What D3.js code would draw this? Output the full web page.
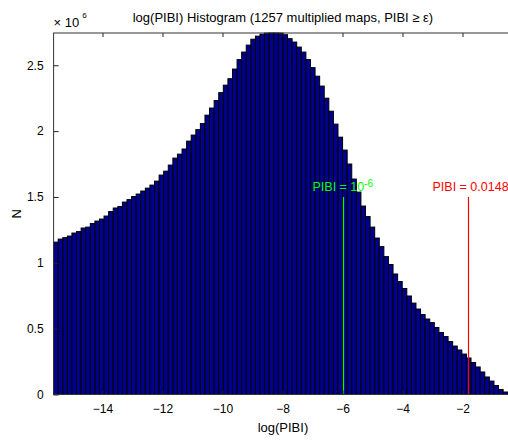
<!DOCTYPE html>
<html>
<head>
<meta charset="utf-8">
<script src="https://cdn.jsdelivr.net/npm/d3@7"></script>
<style>
  body { margin: 0; background: #fff; }
  svg { display: block; font-family: "Liberation Sans", Arial, sans-serif; }
</style>
</head>
<body>
<svg id="hist-svg"></svg>
<script>
const width = 508;
const height = 441;

// log10(PIBI) range covered by the 100 bins
const logMin = -15.63;
const logMax = -0.34;

// bin counts, in units of 10^6
const countsMillions = [
  1.157, 1.180, 1.191, 1.203, 1.226, 1.237, 1.264, 1.271, 1.298, 1.317,
  1.332, 1.355, 1.389, 1.416, 1.427, 1.461, 1.480, 1.503, 1.522, 1.545,
  1.567, 1.590, 1.620, 1.666, 1.696, 1.742, 1.795, 1.825, 1.864, 1.924,
  1.970, 2.011, 2.057, 2.121, 2.175, 2.232, 2.292, 2.349, 2.398, 2.471,
  2.543, 2.600, 2.653, 2.698, 2.721, 2.736, 2.744, 2.745, 2.745, 2.744,
  2.732, 2.702, 2.676, 2.638, 2.600, 2.543, 2.482, 2.417, 2.342, 2.250,
  2.151, 2.053, 1.954, 1.856, 1.750, 1.636, 1.537, 1.431, 1.351, 1.271,
  1.188, 1.123, 1.047, 0.987, 0.915, 0.858, 0.805, 0.748, 0.694, 0.649,
  0.607, 0.573, 0.546, 0.509, 0.471, 0.440, 0.402, 0.368, 0.338, 0.307,
  0.277, 0.243, 0.209, 0.171, 0.133, 0.102, 0.068, 0.038, 0.019, 0.008
];

const xTicks = [-14, -12, -10, -8, -6, -4, -2];
const yTicks = [0, 0.5, 1, 1.5, 2, 2.5];

// threshold markers
const markerPibi = [1e-6, 0.0148];
const markerColors = ["#00ff00", "#ff0000"];
const markerTextX = [-7, -3];
const markerHeight = 1.5;
const markerTextY = 1.575;

const titleText = "log(PIBI) Histogram (1257 multiplied maps, PIBI \u2265 \u03b5)";

const svg = d3.select("#hist-svg")
  .attr("width", width)
  .attr("height", height)
  .attr("viewBox", `0 0 ${width} ${height}`);

svg.append("rect").attr("width", width).attr("height", height).attr("fill", "#fff");

// axes box (right edge runs just past the picture)
const plotLeft = 53.6, plotRight = 512.3, plotTop = 33, plotBottom = 394.5;

const xScale = d3.scaleLinear().domain([logMin, logMax]).range([plotLeft, plotRight]);
const yScale = d3.scaleLinear().domain([0, d3.max(countsMillions)]).range([plotBottom, plotTop]);

const binWidth = (logMax - logMin) / countsMillions.length;
const bins = countsMillions.map((c, i) => ({
  x0: logMin + i * binWidth,
  x1: logMin + (i + 1) * binWidth,
  count: c
}));

// bars
svg.append("g")
  .selectAll("rect")
  .data(bins)
  .enter()
  .append("rect")
  .attr("x", d => xScale(d.x0))
  .attr("width", d => xScale(d.x1) - xScale(d.x0))
  .attr("y", d => yScale(d.count))
  .attr("height", d => plotBottom - yScale(d.count))
  .attr("fill", "#00008f")
  .attr("stroke", "#000")
  .attr("stroke-width", 1);

// marker lines, snapped to a pixel column so the colour stays pure
markerPibi.forEach((v, i) => {
  const px = Math.round(xScale(Math.log10(v))) + 0.5;
  svg.append("line")
    .attr("x1", px).attr("x2", px)
    .attr("y1", yScale(0)).attr("y2", yScale(markerHeight))
    .attr("stroke", markerColors[i])
    .attr("stroke-width", 1.2);
});

const greenLabel = svg.append("text")
  .attr("x", xScale(markerTextX[0]))
  .attr("y", yScale(markerTextY))
  .attr("dy", "0.35em")
  .attr("fill", markerColors[0])
  .style("font-size", "12.5px");
greenLabel.append("tspan").text("PIBI = 10");
greenLabel.append("tspan").attr("dy", "-0.45em").style("font-size", "10px").text("-6");

svg.append("text")
  .attr("x", xScale(markerTextX[1]))
  .attr("y", yScale(markerTextY))
  .attr("dy", "0.35em")
  .attr("fill", markerColors[1])
  .style("font-size", "12.5px")
  .text("PIBI = " + markerPibi[1]);

// bottom axis with labels, ticks pointing in
const xAxisG = svg.append("g")
  .attr("transform", `translate(0,${plotBottom})`)
  .call(d3.axisBottom(xScale).tickValues(xTicks).tickSizeInner(-4).tickSizeOuter(0).tickPadding(10));
xAxisG.select(".domain").remove();
xAxisG.selectAll("text").style("font-size", "12px").attr("fill", "#000");
xAxisG.selectAll("line").attr("stroke", "#222");

// top axis, ticks only
const xTopG = svg.append("g")
  .attr("transform", `translate(0,${plotTop})`)
  .call(d3.axisTop(xScale).tickValues(xTicks).tickSizeInner(-4).tickSizeOuter(0).tickFormat(""));
xTopG.select(".domain").remove();
xTopG.selectAll("line").attr("stroke", "#222");

// left axis
const yAxisG = svg.append("g")
  .attr("transform", `translate(${plotLeft},0)`)
  .call(d3.axisLeft(yScale).tickValues(yTicks).tickSizeInner(-5).tickSizeOuter(0).tickPadding(10)
    .tickFormat(d3.format("")));
yAxisG.select(".domain").remove();
yAxisG.selectAll("text").style("font-size", "12px").attr("fill", "#000");
yAxisG.selectAll("line").attr("stroke", "#222");

// box
svg.append("rect")
  .attr("x", plotLeft).attr("y", plotTop)
  .attr("width", plotRight - plotLeft).attr("height", plotBottom - plotTop)
  .attr("fill", "none")
  .attr("stroke", "#333")
  .attr("stroke-width", 1);

// exponent label
const expLabel = svg.append("text")
  .attr("x", plotLeft)
  .attr("y", 27)
  .style("font-size", "13px")
  .attr("fill", "#000");
expLabel.append("tspan").text("\u00d7 10");
expLabel.append("tspan").attr("dy", "-1.1em").attr("dx", "3").style("font-size", "8px").text("6");

// title
svg.append("text")
  .attr("x", (plotLeft + plotRight) / 2)
  .attr("y", 22)
  .attr("text-anchor", "middle")
  .style("font-size", "13px")
  .text(titleText);

// axis labels
svg.append("text")
  .attr("x", (plotLeft + plotRight) / 2)
  .attr("y", 432)
  .attr("text-anchor", "middle")
  .style("font-size", "13px")
  .text("log(PIBI)");

svg.append("text")
  .attr("transform", `translate(21,${(plotTop + plotBottom) / 2}) rotate(-90)`)
  .attr("text-anchor", "middle")
  .style("font-size", "13px")
  .text("N");
</script>
</body>
</html>
